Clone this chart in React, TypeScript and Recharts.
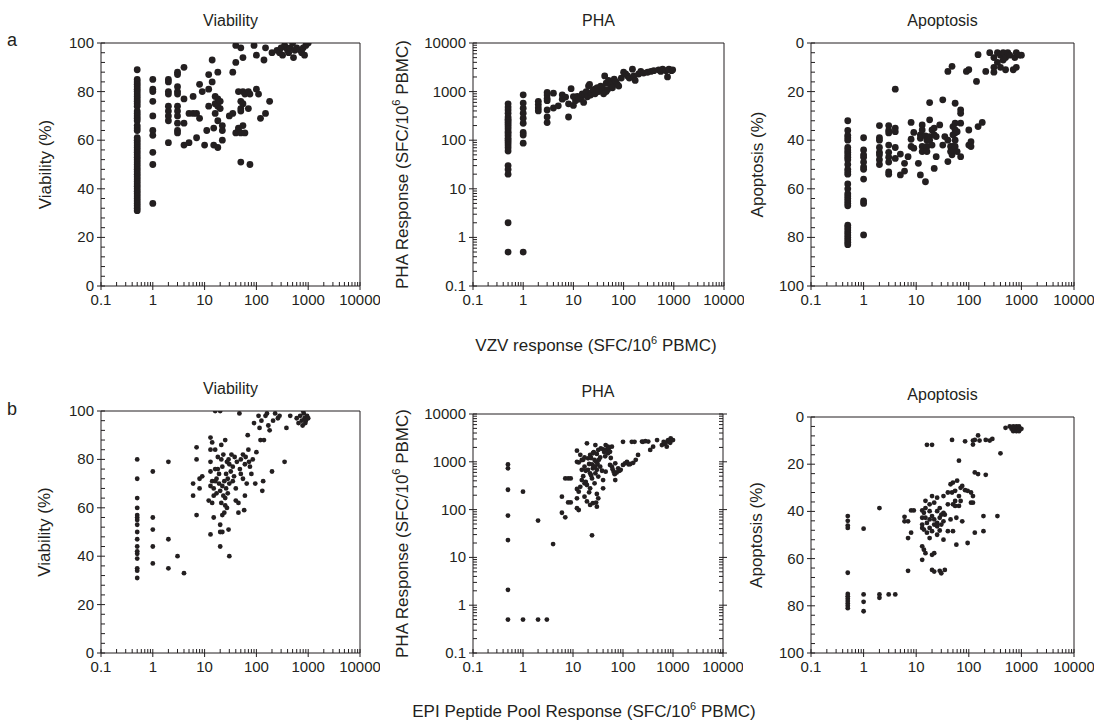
import React from "react";
import { ScatterChart, Scatter, XAxis, YAxis } from "recharts";

type Pt = [number, number];

const INK = "#231f20";
const FONT = "'Liberation Sans', Arial, Helvetica, sans-serif";

// shared tick values
const LOG_MAJOR = [0.1, 1, 10, 100, 1000, 10000];
const LOG_TICKS = [
  0.1, 0.2, 0.3, 0.4, 0.5, 0.6, 0.7, 0.8, 0.9,
  1, 2, 3, 4, 5, 6, 7, 8, 9,
  10, 20, 30, 40, 50, 60, 70, 80, 90,
  100, 200, 300, 400, 500, 600, 700, 800, 900,
  1000, 2000, 3000, 4000, 5000, 6000, 7000, 8000, 9000,
  10000,
];
const PCT_MAJOR = [0, 20, 40, 60, 80, 100];
const PCT_TICKS = [
  0, 4, 8, 12, 16, 20, 24, 28, 32, 36, 40, 44, 48, 52, 56, 60, 64, 68, 72, 76, 80, 84, 88, 92, 96, 100,
];

// a: VZV response vs viability / PHA / apoptosis
const vzvViability: Pt[] = [
  [0.5, 89], [0.5, 85], [0.5, 84], [0.5, 83], [0.5, 82], [0.5, 81], [0.5, 80], [0.5, 79], [0.5, 78], [0.5, 77],
  [0.5, 76], [0.5, 75], [0.5, 74], [0.5, 72], [0.5, 71], [0.5, 70], [0.5, 69], [0.5, 68], [0.5, 66], [0.5, 65],
  [0.5, 64], [0.5, 61], [0.5, 60], [0.5, 59], [0.5, 58], [0.5, 57], [0.5, 56], [0.5, 55], [0.5, 54], [0.5, 53],
  [0.5, 52], [0.5, 51], [0.5, 50], [0.5, 49], [0.5, 48], [0.5, 47], [0.5, 46], [0.5, 45], [0.5, 44], [0.5, 43],
  [0.5, 42], [0.5, 41], [0.5, 40], [0.5, 39], [0.5, 38], [0.5, 37], [0.5, 36], [0.5, 35], [0.5, 34], [0.5, 33],
  [0.5, 32], [0.5, 31],
  [1, 85], [1, 81], [1, 80], [1, 76], [1, 70], [1, 64], [1, 62], [1, 55], [1, 50], [1, 34],
  [2, 85], [2, 84], [2, 80], [2, 79], [2, 74], [2, 72], [2, 70], [2, 68], [2, 59],
  [3, 88], [3, 87], [3, 82], [3, 80], [3, 79], [3, 74], [3, 72], [3, 70], [3, 67], [3, 64], [3, 63],
  [4, 90], [4, 77], [4, 67], [4, 58], [5, 71], [5, 59], [6, 78], [6, 71], [7, 61], [7, 71],
  [8, 83], [8, 69], [9, 80], [10, 58], [11, 64], [12, 87], [12, 81], [12, 74], [14, 93], [14, 84],
  [15, 58], [15, 65], [16, 78], [16, 71], [16, 75], [18, 57], [18, 88], [18, 77], [18, 74], [18, 68],
  [20, 73], [20, 76], [22, 60], [22, 66], [22, 64], [30, 70], [35, 88], [35, 71], [40, 99], [40, 63],
  [40, 92], [45, 80], [45, 65], [45, 64], [50, 98], [50, 76], [50, 73], [50, 72], [50, 51], [50, 63],
  [55, 94], [55, 80], [55, 75], [55, 66], [60, 63], [60, 79], [70, 80], [70, 73], [75, 50], [75, 79],
  [90, 99], [100, 81], [100, 95], [110, 79], [120, 69], [140, 93], [150, 98], [150, 71], [180, 76], [200, 96],
  [250, 97], [280, 96], [300, 98], [320, 95], [350, 99], [380, 98], [400, 97], [420, 96], [450, 98], [500, 100],
  [520, 94], [550, 97], [600, 98], [700, 97], [750, 96], [800, 98], [850, 95], [900, 99], [950, 100], [1000, 100],
];

const vzvPha: Pt[] = [
  [0.5, 560], [0.5, 480], [0.5, 420], [0.5, 360], [0.5, 300], [0.5, 270], [0.5, 250], [0.5, 230], [0.5, 210],
  [0.5, 190], [0.5, 170], [0.5, 150], [0.5, 140], [0.5, 125], [0.5, 110], [0.5, 100], [0.5, 90], [0.5, 80],
  [0.5, 70], [0.5, 60], [0.5, 30], [0.5, 25], [0.5, 20], [0.5, 2], [0.5, 0.5],
  [1, 860], [1, 580], [1, 456], [1, 360], [1, 283], [1, 223], [1, 144], [1, 128], [1, 87], [1, 0.5],
  [2, 630], [2, 540], [2, 460], [2, 400],
  [3, 960], [3, 850], [3, 720], [3, 650], [3, 420], [3, 300], [3, 230],
  [4, 930], [4, 460], [5, 510], [6, 860], [6, 700], [7, 770], [8, 300], [8, 560], [9, 1150], [10, 520],
  [10, 790], [11, 650], [12, 800], [13, 700], [14, 750], [15, 900], [16, 600], [17, 850], [18, 1000], [19, 780],
  [20, 1300], [21, 1400], [22, 850], [23, 950], [25, 1100], [27, 900], [28, 1150], [30, 1200], [32, 1000], [35, 1300],
  [38, 1200], [40, 900], [42, 2100], [45, 1500], [45, 1000], [48, 1100], [50, 1700], [55, 1400], [58, 1600], [60, 1200],
  [65, 1800], [70, 1600], [75, 1400], [80, 1300], [90, 1900], [100, 2500], [110, 2300], [120, 2100], [130, 1900], [150, 2900],
  [160, 2100], [170, 1700], [200, 2300], [220, 2600], [250, 2400], [300, 2500], [350, 2600], [400, 2700], [500, 2800], [550, 2600],
  [600, 2900], [700, 2700], [750, 2000], [800, 2900], [900, 2700], [950, 2800],
];

const vzvApoptosis: Pt[] = [
  [0.5, 32], [0.5, 36], [0.5, 38], [0.5, 39], [0.5, 40], [0.5, 43], [0.5, 44], [0.5, 45], [0.5, 46], [0.5, 47],
  [0.5, 48], [0.5, 50], [0.5, 52], [0.5, 53], [0.5, 54], [0.5, 58], [0.5, 60], [0.5, 62], [0.5, 63], [0.5, 64],
  [0.5, 65], [0.5, 66], [0.5, 67], [0.5, 75], [0.5, 76], [0.5, 77], [0.5, 78], [0.5, 79], [0.5, 80], [0.5, 81],
  [0.5, 82], [0.5, 83],
  [1, 39], [1, 44], [1, 46], [1, 47], [1, 49], [1, 51], [1, 52], [1, 56], [1, 65], [1, 66], [1, 79],
  [2, 34], [2, 39], [2, 40], [2, 43], [2, 45], [2, 46], [2, 48], [2, 50],
  [3, 34], [3, 36], [3, 37], [3, 42], [3, 45], [3, 47], [3, 49], [3, 53], [3, 54],
  [4, 19], [4, 35], [4, 36.5], [4, 43], [4, 47.5], [5, 45.7], [5, 54.3], [6, 49.5], [6, 52.7], [7, 46.8],
  [8, 32.7], [8, 39.6], [8, 42.6], [9, 36.8], [9, 43.3], [11, 49.5], [12, 37.8], [12, 39.2], [12, 54.3], [13, 33.7],
  [13, 35.8], [13, 42.6], [13, 44.7], [15, 57.1], [15, 38.2], [16, 40], [16, 42.6], [16, 44.7], [18, 24.5], [18, 31.6],
  [18, 38.5], [18, 40], [20, 35.8], [20, 42], [22, 35], [22, 37.8], [22, 51.6], [24, 38.5], [24, 46.8], [28, 33.7],
  [32, 23.4], [32, 42], [35, 38.5], [40, 40], [40, 48.8], [40, 11.7], [45, 42.6], [45, 44.7], [48, 9.6], [48, 46],
  [50, 34.4], [50, 37.8], [50, 42.6], [50, 44], [55, 24.8], [55, 33], [55, 35.8], [55, 37], [55, 40], [55, 42.6],
  [60, 36.5], [60, 44.7], [70, 27.5], [70, 28.9], [70, 33], [70, 46.8], [90, 11.7], [100, 11], [100, 35.8], [100, 42],
  [110, 40.6], [110, 42.6], [140, 15.8], [150, 4.8], [150, 34.4], [180, 32.7], [210, 11.7],
  [250, 4], [300, 6], [300, 10], [300, 12], [350, 4], [350, 8], [400, 5], [400, 10], [450, 4], [450, 7],
  [500, 6], [500, 11], [550, 4], [600, 5], [700, 11], [750, 6], [800, 4], [800, 10], [900, 5], [1000, 5],
];

// b: EPI peptide pool response vs viability / PHA / apoptosis
const epiViability: Pt[] = [
  [0.5, 80], [0.5, 72], [0.5, 64], [0.5, 60], [0.5, 57], [0.5, 56], [0.5, 55], [0.5, 53], [0.5, 50], [0.5, 47],
  [0.5, 44], [0.5, 42], [0.5, 41], [0.5, 39], [0.5, 35], [0.5, 34], [0.5, 31],
  [1, 75], [1, 56], [1, 51], [1, 44], [1, 37], [2, 79], [2, 47], [2, 35], [3, 40], [4, 33],
  [6, 70], [6, 65], [7, 85], [7, 80], [7, 57], [8, 68], [8, 72], [9, 73],
  [12, 63], [13, 89], [13, 84], [13, 79], [13, 75], [13, 69], [13, 49], [14, 87], [14, 62], [14, 71],
  [15, 56], [15, 65], [15, 68], [16, 100], [16, 76], [16, 84], [16, 71], [17, 72], [17, 66], [18, 81],
  [18, 76], [19, 70], [19, 74], [20, 100], [20, 67], [20, 53], [20, 50], [20, 44], [21, 86], [21, 80],
  [21, 62], [22, 77], [22, 69], [22, 57], [22, 50], [23, 82], [23, 65], [24, 71], [24, 58], [25, 88],
  [25, 64], [25, 61], [26, 74], [26, 68], [27, 79], [27, 60], [28, 72], [28, 66], [29, 80], [29, 51],
  [30, 40], [30, 78], [30, 70], [32, 75], [33, 82], [35, 71], [35, 77], [37, 73], [38, 81], [40, 68],
  [40, 63], [42, 79], [45, 62], [45, 58], [47, 99], [48, 76], [50, 80], [50, 74], [55, 82], [55, 72],
  [58, 59], [60, 65], [60, 78], [62, 81], [65, 70], [68, 90], [70, 84], [72, 79], [75, 77], [80, 74],
  [85, 80], [90, 95], [95, 70], [100, 83], [110, 98], [115, 93], [120, 88], [125, 96], [130, 67], [135, 71],
  [140, 88], [150, 98], [160, 99], [170, 94], [180, 92], [200, 75], [210, 96], [230, 99], [260, 97], [280, 98],
  [350, 79], [380, 93], [450, 98], [600, 97], [650, 95], [700, 98], [750, 96], [780, 94], [800, 100], [820, 99],
  [850, 97], [880, 95], [900, 96], [950, 98], [1000, 97],
];

const epiPha: Pt[] = [
  [0.5, 880], [0.5, 730], [0.5, 260], [0.5, 75], [0.5, 23], [0.5, 2.1], [0.5, 0.5],
  [1, 237], [1, 0.5], [2, 59], [2, 0.5], [3, 0.5], [4, 19],
  [6, 186], [6, 86], [7, 450], [7, 69], [8, 141], [8, 450], [9, 450], [9, 141],
  [12, 1710], [12, 1000], [12, 270], [12, 172], [12, 107], [13, 970], [13, 237], [13, 98],
  [14, 300], [14, 1400], [15, 680], [15, 415], [15, 1090], [16, 500], [16, 1100], [17, 1230], [17, 790], [17, 355],
  [17, 186], [18, 650], [18, 380], [19, 2430], [19, 327], [19, 148], [20, 1180], [20, 680], [21, 900], [21, 230],
  [22, 1390], [22, 575], [22, 279], [22, 125], [23, 1200], [23, 520], [24, 885], [24, 450], [24, 29], [25, 1510],
  [25, 730], [25, 136], [26, 800], [26, 1600], [27, 1090], [27, 355], [28, 2240], [28, 790], [28, 575], [29, 1000],
  [29, 140], [30, 1460], [30, 680], [30, 212], [30, 115], [31, 900], [32, 1770], [32, 490], [32, 172], [33, 1100],
  [35, 1230], [35, 790], [36, 1900], [38, 650], [40, 1820], [40, 415], [40, 279], [42, 1600], [44, 1300], [45, 2240],
  [45, 620], [47, 1800], [50, 2070], [50, 1510], [52, 1900], [55, 1620], [55, 860], [57, 1200], [60, 2070], [60, 790],
  [62, 700], [65, 620], [68, 550], [70, 930], [70, 575], [70, 415], [75, 600], [80, 730], [85, 650], [90, 680],
  [100, 2620], [100, 860], [110, 930], [120, 1000], [130, 880], [140, 900], [150, 2620], [160, 950], [170, 2620], [180, 1100],
  [200, 1390], [240, 2650], [250, 2620], [280, 2700], [320, 2650], [350, 1770], [400, 2070], [480, 2850], [600, 2240], [650, 2600],
  [700, 2370], [700, 2500], [750, 2070], [780, 2700], [800, 2850], [850, 2600], [880, 2500], [900, 3100], [950, 2850], [1000, 2850],
];

const epiApoptosis: Pt[] = [
  [0.5, 42], [0.5, 44], [0.5, 46], [0.5, 47], [0.5, 66], [0.5, 75], [0.5, 76], [0.5, 77], [0.5, 78], [0.5, 79],
  [0.5, 80], [0.5, 81],
  [1, 47.3], [1, 75.2], [1, 78.3], [1, 82.3], [2, 38.6], [2, 75.2], [2, 76.6], [3, 75.2], [4, 75.2],
  [6, 42.3], [6, 44.2], [7, 44.2], [7, 51.3], [7, 65.2], [8, 39.6], [8, 49], [9, 39.6],
  [13, 39.6], [13, 42.7], [13, 45.6], [13, 47], [13, 54.8], [13, 60.5], [14, 40.6], [14, 56.2], [14, 47.7],
  [15, 35.5], [15, 38.6], [15, 42.7], [15, 57.7], [16, 11.8], [16, 49], [16, 44.9], [18, 37], [18, 39.9],
  [18, 43.4], [18, 51.3], [18, 47], [20, 11.8], [20, 33.5], [20, 42], [20, 58.4], [20, 64.8], [20, 48.4],
  [22, 36.3], [22, 43.4], [22, 45.6], [22, 57.7], [22, 65.5], [25, 34.2], [25, 39.9], [25, 44.9], [25, 49.9],
  [25, 46.3], [28, 38.6], [28, 42.7], [28, 48.1], [28, 65.2], [30, 41.4], [30, 45.6], [30, 66.2], [33, 33.5],
  [33, 40.6], [33, 44.2], [33, 52], [35, 64.8], [35, 41.4], [40, 32], [40, 37], [40, 48.4], [45, 28.5],
  [45, 43.4], [48, 9.7], [48, 32], [50, 27.8], [50, 37], [50, 48.4], [55, 31.3], [55, 35.6], [55, 37.7],
  [58, 54.1], [58, 42.7], [60, 27], [65, 18.5], [65, 33.5], [65, 37.7], [70, 30], [70, 35.6], [75, 29.2],
  [75, 44.2], [85, 10.3], [85, 31], [95, 31.3], [95, 53.4], [110, 32], [110, 36.3], [120, 10], [120, 11.7],
  [120, 33.5], [120, 36.3], [130, 9.7], [130, 23.5], [130, 49], [150, 24.2], [150, 7.8], [160, 10], [190, 48.4],
  [190, 42], [210, 9.7], [210, 24.5], [250, 10], [280, 9.3], [350, 42], [400, 15.4], [500, 4.6],
  [600, 4], [650, 5], [700, 4], [700, 6], [750, 5], [800, 4], [800, 6], [850, 5], [900, 4], [900, 6], [950, 5], [1000, 5],
];

function bottomTick(props: any) {
  const { x, y, payload } = props;
  const major = LOG_MAJOR.includes(payload.value);
  return (
    <g>
      <line x1={x} x2={x} y1={y - 4} y2={major ? y + 4 : y} stroke={INK} strokeWidth={1} />
      {major && (
        <text x={x} y={y + 19} textAnchor="middle" fontSize={15} fill={INK} fontFamily={FONT}>
          {String(payload.value)}
        </text>
      )}
    </g>
  );
}

function makeLeftTick(majors: number[]) {
  return (props: any) => {
    const { x, y, payload } = props;
    const major = majors.includes(payload.value);
    return (
      <g>
        <line x1={major ? x - 4 : x} x2={x + 4} y1={y} y2={y} stroke={INK} strokeWidth={1} />
        {major && (
          <text x={x - 7} y={y + 5} textAnchor="end" fontSize={15} fill={INK} fontFamily={FONT}>
            {String(payload.value)}
          </text>
        )}
      </g>
    );
  };
}

function makeRightTick(majors: number[]) {
  return (props: any) => {
    const { x, y, payload } = props;
    const major = majors.includes(payload.value);
    return <line x1={x - 4} x2={major ? x + 4 : x} y1={y} y2={y} stroke={INK} strokeWidth={1} />;
  };
}

function Sup6() {
  return (
    <>
      <tspan dy={-6} fontSize={11}>6</tspan>
      <tspan dy={6}> PBMC)</tspan>
    </>
  );
}

type PanelProps = {
  data: Pt[];
  box: { L: number; T: number; R: number; B: number };
  title: string;
  yLabel: React.ReactNode;
  yLabelDx: number;
  yKind: "pct" | "log";
  reversed?: boolean;
  r: number;
  rightTicks?: boolean;
};

function Panel({ data, box, title, yLabel, yLabelDx, yKind, reversed, r, rightTicks }: PanelProps) {
  const W = box.R - box.L + 120;
  const H = box.B - box.T + 80;
  const rows = data.map(([x, y]) => ({ x, y }));
  const yDomain = yKind === "log" ? [0.1, 10000] : [0, 100];
  const yTicks = yKind === "log" ? LOG_TICKS : PCT_TICKS;
  const yMajor = yKind === "log" ? LOG_MAJOR : PCT_MAJOR;
  const yScale = yKind === "log" ? "log" : "linear";

  return (
    <div style={{ position: "absolute", left: box.L - 100, top: box.T - 40 }}>
      <ScatterChart width={W} height={H} margin={{ top: 10, right: 10, bottom: 10, left: 50 }}>
        <XAxis
          xAxisId="x"
          dataKey="x"
          type="number"
          scale="log"
          domain={[0.1, 10000]}
          allowDataOverflow
          ticks={LOG_TICKS}
          interval={0}
          height={30}
          tickSize={0}
          tickMargin={0}
          tickLine={false}
          tick={bottomTick}
          axisLine={{ stroke: INK }}
        />
        <XAxis
          xAxisId="top"
          orientation="top"
          type="number"
          scale="log"
          domain={[0.1, 10000]}
          allowDataOverflow
          height={30}
          tick={false}
          tickLine={false}
          axisLine={{ stroke: INK }}
          label={(p: any) => {
            const vb = p.viewBox;
            return (
              <text
                x={vb.x + vb.width / 2}
                y={vb.y + vb.height - 17}
                textAnchor="middle"
                fontSize={16}
                fill={INK}
                fontFamily={FONT}
              >
                {title}
              </text>
            );
          }}
        />
        <YAxis
          yAxisId="y"
          dataKey="y"
          type="number"
          scale={yScale}
          domain={yDomain}
          reversed={reversed}
          allowDataOverflow
          ticks={yTicks}
          interval={0}
          width={50}
          tickSize={0}
          tickMargin={0}
          tickLine={false}
          tick={makeLeftTick(yMajor)}
          axisLine={{ stroke: INK }}
          label={(p: any) => {
            const vb = p.viewBox;
            const cx = vb.x + vb.width - yLabelDx;
            const cy = vb.y + vb.height / 2;
            return (
              <text
                x={cx}
                y={cy}
                transform={`rotate(-90, ${cx}, ${cy})`}
                textAnchor="middle"
                dominantBaseline="central"
                fontSize={17}
                fill={INK}
                fontFamily={FONT}
              >
                {yLabel}
              </text>
            );
          }}
        />
        <YAxis
          yAxisId="right"
          orientation="right"
          type="number"
          scale={yScale}
          domain={yDomain}
          reversed={reversed}
          allowDataOverflow
          ticks={rightTicks ? yTicks : undefined}
          interval={0}
          width={10}
          tickSize={0}
          tickMargin={0}
          tickLine={false}
          tick={rightTicks ? makeRightTick(yMajor) : false}
          axisLine={{ stroke: INK }}
        />
        <Scatter
          data={rows}
          xAxisId="x"
          yAxisId="y"
          isAnimationActive={false}
          shape={(p: any) => <circle cx={p.cx} cy={p.cy} r={r} fill={INK} />}
        />
      </ScatterChart>
    </div>
  );
}

const phaLabel = (
  <>
    PHA Response (SFC/10
    <Sup6 />
  </>
);

export default function App() {
  return (
    <div style={{ position: "absolute", left: 0, top: 0, width: 1100, height: 721, background: "#fff", fontFamily: FONT, color: INK }}>
      <div style={{ position: "absolute", left: 7, top: 30, fontSize: 18 }}>a</div>
      <div style={{ position: "absolute", left: 7, top: 399, fontSize: 18 }}>b</div>

      <Panel data={vzvViability} box={{ L: 101, T: 43, R: 360, B: 286 }} title="Viability" yLabel="Viability (%)" yLabelDx={56} yKind="pct" r={3.4} />
      <Panel data={vzvPha} box={{ L: 473, T: 43, R: 724, B: 286 }} title="PHA" yLabel={phaLabel} yLabelDx={71} yKind="log" r={3.4} />
      <Panel data={vzvApoptosis} box={{ L: 811, T: 43, R: 1074, B: 286 }} title="Apoptosis" yLabel="Apoptosis (%)" yLabelDx={54} yKind="pct" reversed r={3.4} />

      <Panel data={epiViability} box={{ L: 101, T: 411, R: 360, B: 653 }} title="Viability" yLabel="Viability (%)" yLabelDx={57} yKind="pct" r={2.4} />
      <Panel data={epiPha} box={{ L: 473, T: 414, R: 723, B: 653 }} title="PHA" yLabel={phaLabel} yLabelDx={71} yKind="log" r={2.4} rightTicks />
      <Panel data={epiApoptosis} box={{ L: 811, T: 417, R: 1074, B: 653 }} title="Apoptosis" yLabel="Apoptosis (%)" yLabelDx={55} yKind="pct" reversed r={2.4} />

      <div style={{ position: "absolute", left: 596, top: 345, transform: "translate(-50%, -50%)", fontSize: 17, whiteSpace: "nowrap" }}>
        VZV response (SFC/10<sup style={{ fontSize: 11 }}>6</sup> PBMC)
      </div>
      <div style={{ position: "absolute", left: 584, top: 711, transform: "translate(-50%, -50%)", fontSize: 17, whiteSpace: "nowrap" }}>
        EPI Peptide Pool Response (SFC/10<sup style={{ fontSize: 11 }}>6</sup> PBMC)
      </div>
    </div>
  );
}
